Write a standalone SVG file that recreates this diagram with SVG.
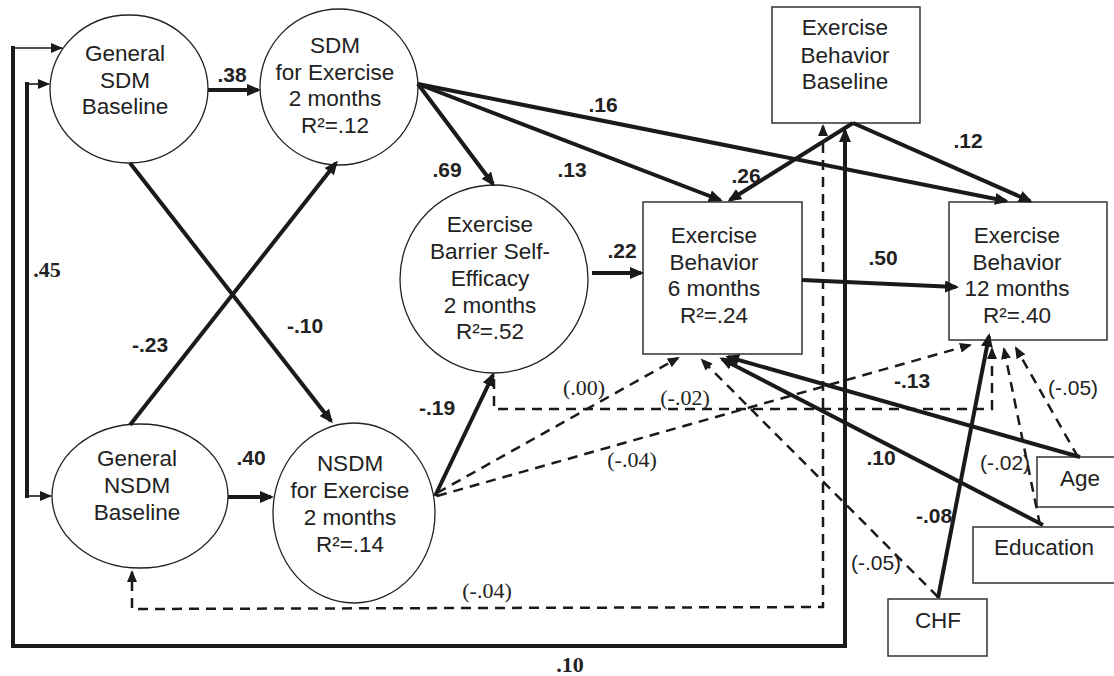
<svg xmlns="http://www.w3.org/2000/svg" width="1114" height="676" viewBox="0 0 1114 676">
<style>
.el{fill:#fff;stroke:#222;stroke-width:1.3}
.bx{fill:#fff;stroke:#333;stroke-width:1.5}
.nt{font-family:"Liberation Sans",Arial,sans-serif;font-size:22.5px;fill:#222;text-anchor:middle}
.lb{font-family:"Liberation Sans",Arial,sans-serif;font-size:21px;font-weight:bold;fill:#222;text-anchor:middle}
.lr{font-family:"Liberation Sans",Arial,sans-serif;font-size:21px;fill:#222;text-anchor:middle}
.ls{font-family:"Liberation Serif","Times New Roman",serif;font-size:22px;fill:#222;text-anchor:middle}
.lsb{font-family:"Liberation Serif","Times New Roman",serif;font-size:22px;font-weight:bold;fill:#222;text-anchor:middle}
.sol{stroke:#1a1a1a;stroke-width:4;fill:none;marker-end:url(#ah)}
.thk{stroke:#1a1a1a;stroke-width:4;fill:none}
.thin{stroke:#1a1a1a;stroke-width:1.6;fill:none;marker-end:url(#at)}
.dsh{stroke:#1a1a1a;stroke-width:2.5;stroke-dasharray:10 7;fill:none;marker-end:url(#ad)}
</style>
<defs>
<marker id="ah" viewBox="0 0 14 12" refX="11" refY="6" markerWidth="14" markerHeight="12" markerUnits="userSpaceOnUse" orient="auto"><path d="M0,0L14,6L0,12z" fill="#1a1a1a"/></marker>
<marker id="at" viewBox="0 0 12 10" refX="11" refY="5" markerWidth="12" markerHeight="10" markerUnits="userSpaceOnUse" orient="auto"><path d="M0,0L12,5L0,10z" fill="#1a1a1a"/></marker>
<marker id="ad" viewBox="0 0 12 10" refX="10" refY="5" markerWidth="12" markerHeight="10" markerUnits="userSpaceOnUse" orient="auto"><path d="M0,0L12,5L0,10z" fill="#1a1a1a"/></marker>
<marker id="ads" viewBox="0 0 12 10" refX="10" refY="5" markerWidth="12" markerHeight="10" markerUnits="userSpaceOnUse" orient="auto-start-reverse"><path d="M0,0L12,5L0,10z" fill="#1a1a1a"/></marker>
</defs>
<rect width="1114" height="676" fill="#fff"/>

<g id="general-sdm-baseline">
<ellipse class="el" cx="129" cy="89" rx="79" ry="74"/>
<text class="nt" x="125" y="61">General</text>
<text class="nt" x="125" y="88">SDM</text>
<text class="nt" x="125" y="114">Baseline</text>
</g>
<g id="sdm-exercise-2m">
<ellipse class="el" cx="339" cy="87" rx="79" ry="78"/>
<text class="nt" x="335" y="53">SDM</text>
<text class="nt" x="335" y="80">for Exercise</text>
<text class="nt" x="335" y="106">2 months</text>
<text class="nt" x="335" y="133">R²=.12</text>
</g>
<g id="barrier-self-efficacy">
<ellipse class="el" cx="494" cy="279" rx="94" ry="94"/>
<text class="nt" x="490" y="232">Exercise</text>
<text class="nt" x="490" y="259">Barrier Self-</text>
<text class="nt" x="490" y="286">Efficacy</text>
<text class="nt" x="490" y="313">2 months</text>
<text class="nt" x="490" y="339">R²=.52</text>
</g>
<g id="general-nsdm-baseline">
<ellipse class="el" cx="140" cy="496" rx="88" ry="72"/>
<text class="nt" x="137" y="466">General</text>
<text class="nt" x="137" y="493">NSDM</text>
<text class="nt" x="137" y="520">Baseline</text>
</g>
<g id="nsdm-exercise-2m">
<ellipse class="el" cx="354" cy="513" rx="81" ry="90"/>
<text class="nt" x="350" y="471">NSDM</text>
<text class="nt" x="350" y="498">for Exercise</text>
<text class="nt" x="350" y="525">2 months</text>
<text class="nt" x="350" y="552">R²=.14</text>
</g>
<g id="exercise-behavior-baseline">
<rect class="bx" x="772" y="7" width="148" height="116"/>
<text class="nt" x="845" y="35">Exercise</text>
<text class="nt" x="845" y="63">Behavior</text>
<text class="nt" x="845" y="89">Baseline</text>
</g>
<g id="exercise-behavior-6m">
<rect class="bx" x="643" y="202" width="159" height="152"/>
<text class="nt" x="714" y="243">Exercise</text>
<text class="nt" x="714" y="270">Behavior</text>
<text class="nt" x="714" y="296">6 months</text>
<text class="nt" x="714" y="323">R²=.24</text>
</g>
<g id="exercise-behavior-12m">
<rect class="bx" x="949" y="202" width="158" height="138"/>
<text class="nt" x="1017" y="243">Exercise</text>
<text class="nt" x="1017" y="270">Behavior</text>
<text class="nt" x="1017" y="296">12 months</text>
<text class="nt" x="1017" y="323">R²=.40</text>
</g>
<g id="age">
<rect class="bx" x="1037" y="457" width="90" height="50"/>
<text class="nt" x="1080" y="486">Age</text>
</g>
<g id="education">
<rect class="bx" x="973" y="527" width="150" height="56"/>
<text class="nt" x="1044" y="555">Education</text>
</g>
<g id="chf">
<rect class="bx" x="888" y="599" width="99" height="57"/>
<text class="nt" x="938" y="628">CHF</text>
</g>

<g id="connectors">
<path class="sol" d="M208,90L258,90"/>
<path class="sol" d="M228,497L271,497"/>
<path class="sol" d="M130,163L331,421"/>
<path class="sol" d="M130,425L336,163"/>
<path class="sol" d="M418,84L493,184"/>
<path class="sol" d="M418,84L720,200"/>
<path class="sol" d="M418,84L1006,201"/>
<path class="sol" d="M853,123L1030,201"/>
<path class="sol" d="M853,123L730,200"/>
<path class="sol" d="M592,273L641,273"/>
<path class="sol" d="M802,280L956,287"/>
<path class="sol" d="M435,496L493,375"/>
<path class="sol" d="M1080,457L728,357"/>
<path class="sol" d="M1043,525L722,359"/>
<path class="sol" d="M938,598L989,336"/>
<path class="thk" d="M13,46L13,646L845,646L845,140"/>
<path class="sol" d="M845,150L845,131"/>
<path class="thin" d="M13,48L62,48"/>
<path class="thk" d="M27,82L27,498"/>
<path class="thin" d="M27,84L49,84"/>
<path class="thin" d="M27,496L51,496"/>
<path class="dsh" d="M437,493L678,358"/>
<path class="dsh" d="M437,496L970,345"/>
<path class="dsh" d="M494,379L494,409L992,409L992,349"/>
<path class="dsh" d="M938,597L702,360"/>
<path class="dsh" d="M1078,457L1016,348"/>
<path class="dsh" d="M1040,525L1004,349"/>
<path class="dsh" style="marker-start:url(#ads)" d="M823,126L823,607L132,609L132,572"/>
</g>

<g id="labels">
<text class="lb" x="232" y="82">.38</text>
<text class="lb" x="251" y="465">.40</text>
<text class="lb" x="305" y="333">-.10</text>
<text class="lb" x="150" y="352">-.23</text>
<text class="lsb" x="47" y="277">.45</text>
<text class="lb" x="447" y="177">.69</text>
<text class="lb" x="572" y="177">.13</text>
<text class="lb" x="603" y="112">.16</text>
<text class="lb" x="746" y="183">.26</text>
<text class="lb" x="968" y="148">.12</text>
<text class="lb" x="622" y="258">.22</text>
<text class="lb" x="883" y="265">.50</text>
<text class="lb" x="437" y="415">-.19</text>
<text class="ls" x="584" y="395">(.00)</text>
<text class="ls" x="685" y="405">(-.02)</text>
<text class="ls" x="632" y="467">(-.04)</text>
<text class="ls" x="487" y="598">(-.04)</text>
<text class="lsb" x="570" y="672">.10</text>
<text class="lb" x="912" y="388">-.13</text>
<text class="lb" x="881" y="465">.10</text>
<text class="lb" x="934" y="523">-.08</text>
<text class="lr" x="1073" y="395">(-.05)</text>
<text class="lr" x="1005" y="470">(-.02)</text>
<text class="lr" x="876" y="570">(-.05)</text>
</g>
</svg>
